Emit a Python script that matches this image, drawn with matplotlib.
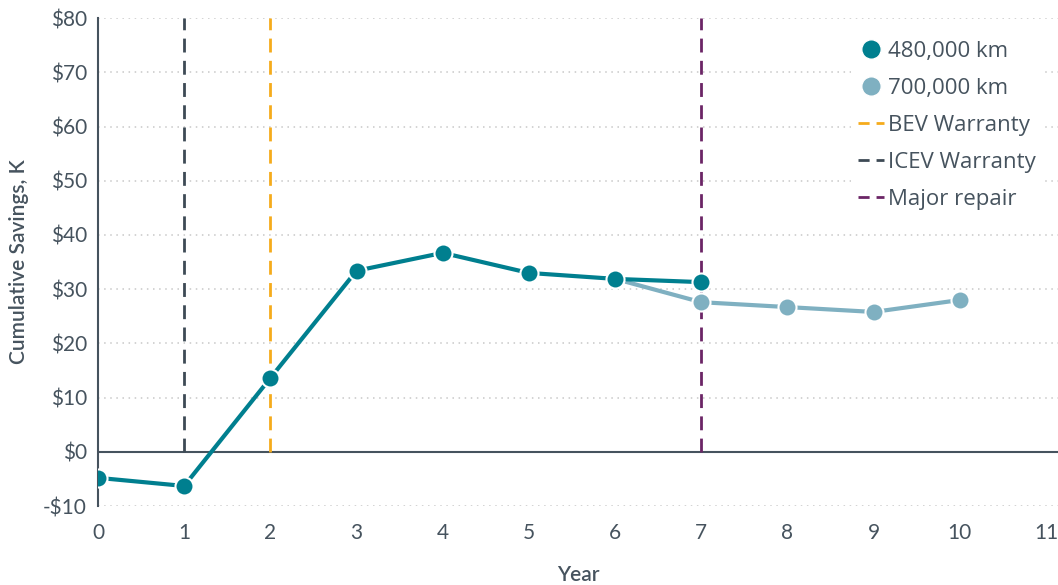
import matplotlib
matplotlib.use("Agg")
from matplotlib import pyplot
from matplotlib.lines import Line2D

pyplot.rcParams["font.family"] = ["Lato", "DejaVu Sans"]

years_480 = [0, 1, 2, 3, 4, 5, 6, 7]
savings_480 = [-4.8, -6.3, 13.6, 33.4, 36.7, 33.0, 31.9, 31.3]

years_700 = [6, 7, 8, 9, 10]
savings_700 = [31.9, 27.6, 26.7, 25.8, 28.0]

bev_warranty = 2
icev_warranty = 1
major_repair = 7

y_ticks = [-10, 0, 10, 20, 30, 40, 50, 60, 70, 80]
x_ticks = list(range(0, 12))
legend_labels = ["480,000 km", "700,000 km", "BEV Warranty", "ICEV Warranty", "Major repair"]

text_col = "#46535e"
teal = "#007f8f"
light = "#7fb0c1"
orange = "#f5ab1c"
slate = "#3d4a55"
purple = "#6b2566"

fig = pyplot.figure(figsize=(10.58, 5.85), dpi=100)
axes = fig.add_axes([0.0926, 0.135, 0.9074, 0.834])

for y in y_ticks:
    if y != 0:
        axes.axhline(y, color="#c8c8c8", lw=1.1, ls=(0, (1, 3)), zorder=0)
axes.axhline(0, color=text_col, lw=1.5, zorder=1)

dash = (0, (5, 3))
axes.vlines(icev_warranty, 0, 80, colors=slate, lw=2, linestyles=dash, zorder=2)
axes.vlines(bev_warranty, 0, 80, colors=orange, lw=2, linestyles=dash, zorder=2)
axes.vlines(major_repair, 0, 80, colors=purple, lw=2, linestyles=dash, zorder=2)

axes.plot(years_700, savings_700, "-o", color=light, lw=3, ms=13,
          mec="white", mew=1.5, zorder=3)
axes.plot(years_480, savings_480, "-o", color=teal, lw=3, ms=13,
          mec="white", mew=1.5, zorder=4)

axes.set_xlim(0, 11.14)
axes.set_ylim(-10, 80)
axes.set_xticks(x_ticks)
axes.set_yticks(y_ticks)
axes.set_yticklabels([f"-${-v}" if v < 0 else f"${v}" for v in y_ticks])
axes.tick_params(axis="both", length=0, labelsize=15, colors=text_col)
axes.tick_params(axis="x", pad=12)
axes.tick_params(axis="y", pad=8)

for side in ["top", "right", "bottom"]:
    axes.spines[side].set_visible(False)
axes.spines["left"].set_color(text_col)
axes.spines["left"].set_linewidth(1.5)

axes.set_xlabel("Year", fontsize=15, color=text_col, fontweight="semibold", labelpad=16)
axes.set_ylabel("Cumulative Savings, K", fontsize=15, color=text_col,
                fontweight="semibold", labelpad=10)

leg_handles = [
    Line2D([], [], ls="none", marker="o", color=teal, ms=14, mec="white"),
    Line2D([], [], ls="none", marker="o", color=light, ms=14, mec="white"),
    Line2D([], [], color=orange, lw=2, ls=(0, (4, 2.5))),
    Line2D([], [], color=slate, lw=2, ls=(0, (4, 2.5))),
    Line2D([], [], color=purple, lw=2, ls=(0, (4, 2.5))),
]
leg = axes.legend(leg_handles, legend_labels, loc="upper right",
                  bbox_to_anchor=(0.995, 0.99), frameon=True, framealpha=1,
                  edgecolor="none", handlelength=1.2, handletextpad=0.15,
                  labelspacing=0.72, borderpad=0.3,
                  prop={"family": ["Open Sans", "DejaVu Sans"], "size": 16})
for t in leg.get_texts():
    t.set_color(text_col)

fig.savefig("out.png", dpi=100)
